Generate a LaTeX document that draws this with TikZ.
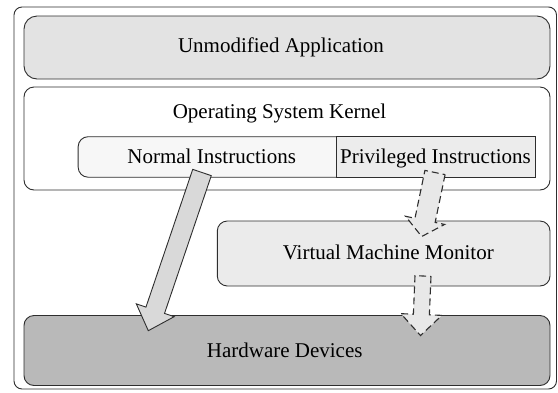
\documentclass[tikz,border=0pt]{standalone}
\usepackage{fontspec}
\setmainfont{Liberation Serif}
\usetikzlibrary{calc}
\definecolor{appfill}{HTML}{E3E3E3}
\definecolor{normfill}{HTML}{F7F7F7}
\definecolor{privfill}{HTML}{ECECEC}
\definecolor{vmmfill}{HTML}{EBEBEB}
\definecolor{hwfill}{HTML}{B9B9B9}
\definecolor{arrfill}{HTML}{D9D9D9}
\definecolor{darrfill}{HTML}{E8E8E8}
\definecolor{edge}{HTML}{2E2E2E}
\newcommand\blockarrow[6]{%
  \coordinate (hb) at ($(#3)!#6!(#2)$);
  \path[#1] ($(#2)!#4!90:(#3)$) -- ($(hb)!#4!90:(#3)$) -- ($(hb)!#5!90:(#3)$) -- (#3)
    -- ($(hb)!#5!-90:(#3)$) -- ($(hb)!#4!-90:(#3)$) -- ($(#2)!#4!-90:(#3)$) -- cycle;
}
\begin{document}
\begin{tikzpicture}[x=1pt,y=-1pt,
  box/.style={draw=edge,line width=0.9pt,rectangle,inner sep=0pt},
  lbl/.style={font=\fontsize{21}{24}\selectfont,anchor=base,inner sep=0pt},
  solidarrow/.style={draw=edge,line width=0.9pt,fill=arrfill,line join=miter},
  dasharrow/.style={draw=edge,line width=1.1pt,fill=darrfill,dash pattern=on 7pt off 4pt}]
\useasboundingbox (0,0) rectangle (558,392);
\fill[white] (0,0) rectangle (558,392);
% outer frame
\node[box,rounded corners=8pt,minimum width=542.5pt,minimum height=382pt] (frame) at (285.25,198) {};
% boxes
\node[box,rounded corners=13pt,fill=appfill,minimum width=526pt,minimum height=63pt] (app) at (287,47.5) {};
\node[box,rounded corners=10pt,fill=white,minimum width=526pt,minimum height=103pt] (kernel) at (287,138.5) {};
\node[box,rounded corners=10pt,fill=normfill,minimum width=272pt,minimum height=40.5pt] (normal) at (214.15,156.95) {};
\node[box,fill=privfill,minimum width=199pt,minimum height=40.5pt] (priv) at (435.5,156.95) {};
\node[box,rounded corners=10pt,fill=vmmfill,minimum width=332.7pt,minimum height=65pt] (vmm) at (383.65,253.5) {};
\node[box,rounded corners=10pt,fill=hwfill,minimum width=526pt,minimum height=70pt] (hw) at (287,350.5) {};
% texts
\node[lbl] (tapp) at (281,52) {Unmodified Application};
\node[lbl] (tker) at (279.5,118.5) {Operating System Kernel};
\node[lbl] (tnorm) at (211.7,163) {Normal Instructions};
\node[lbl] (tpriv) at (435.5,163) {Privileged Instructions};
\node[lbl] (tvmm) at (388.3,259) {Virtual Machine Monitor};
\node[lbl] (thw) at (284.7,357.5) {Hardware Devices};
% arrows
\coordinate (s1) at (202,172.5);
\coordinate (e1) at (148.3,330.7);
\coordinate (s2) at (435,172.5);
\coordinate (e2) at (421.7,236.5);
\coordinate (s3) at (423,276);
\coordinate (e3) at (420.5,335.5);
\blockarrow{solidarrow}{s1}{e1}{9.8pt}{20pt}{21.6pt}
\blockarrow{dasharrow}{s2}{e2}{10.3pt}{20pt}{16.5pt}
\blockarrow{dasharrow}{s3}{e3}{8pt}{20.5pt}{21pt}
\end{tikzpicture}
\end{document}
